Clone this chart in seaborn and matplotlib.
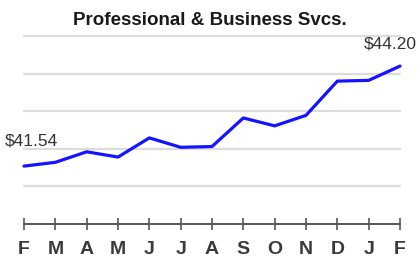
import seaborn as sns
import matplotlib.pyplot as plt
import pandas as pd

months = ["F", "M", "A", "M", "J", "J", "A", "S", "O", "N", "D", "J", "F"]
wages = [41.54, 41.64, 41.92, 41.78, 42.29, 42.04, 42.06, 42.82, 42.61, 42.89, 43.80, 43.82, 44.20]
grid_vals = [41, 42, 43, 44, 45]
title = "Professional & Business Svcs."

sns.set_theme(style="white")
plt.rcParams['font.family'] = ['Liberation Sans Narrow', 'Liberation Sans', 'DejaVu Sans']

df = pd.DataFrame({"pos": range(len(months)), "wage": wages})

fig = plt.figure(figsize=(4.2, 2.69), dpi=100)
ax = fig.add_axes([24 / 420, 45 / 269, 376 / 420, 188 / 269])

for g in grid_vals:
    ax.axhline(g, color="#dcdcdc", lw=1.6, clip_on=False, zorder=0)

sns.lineplot(data=df, x="pos", y="wage", color="#1414ff", lw=2.3, ax=ax, clip_on=False)

ax.set_xlim(0, len(months) - 1)
ax.set_ylim(40, 45)
ax.set_xticks(df["pos"])
ax.set_xticklabels(months, fontsize=14, fontweight="bold", color="#3a3a3a")
ax.set_yticks([])
ax.set_xlabel("")
ax.set_ylabel("")
for s in ["left", "top", "right"]:
    ax.spines[s].set_visible(False)
ax.spines["bottom"].set_color("#555555")
ax.spines["bottom"].set_linewidth(1.4)
ax.tick_params(axis="x", direction="inout", length=8, width=1.2, color="#555555", pad=8, bottom=True)

ax.text(-0.6, 42.10, f"${wages[0]:.2f}", fontsize=12.5, color="#333333", ha="left", va="baseline")
ax.text(len(months) - 0.45, 44.68, f"${wages[-1]:.2f}", fontsize=12.5, color="#333333", ha="right", va="baseline")

fig.text(0.5, 0.955, title, ha="center", va="top", fontsize=13.5, fontweight="bold", color="#1a1a1a")

fig.savefig("out.png", dpi=100)
